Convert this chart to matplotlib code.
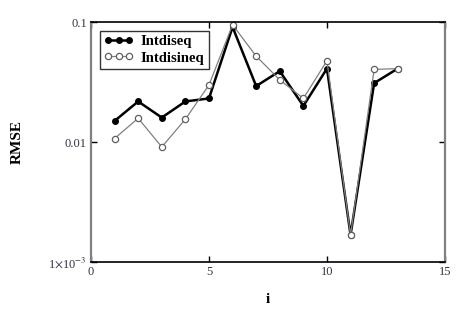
import matplotlib.pyplot as plt
import numpy as np

i_vals = [1, 2, 3, 4, 5, 6, 7, 8, 9, 10, 11, 12, 13]
intdiseq = [0.0150, 0.0218, 0.0160, 0.0218, 0.0231, 0.091, 0.0293, 0.039, 0.0200, 0.041, 0.00168, 0.031, 0.041]
intdisineq = [0.0107, 0.0158, 0.0091, 0.0155, 0.0299, 0.095, 0.052, 0.033, 0.0231, 0.0476, 0.00168, 0.0403, 0.041]

xticks = [0, 5, 10, 15]
yticks = [0.001, 0.01, 0.1]
ytick_labels = [r"1$\times$10$^{-3}$", "0.01", "0.1"]

plt.rcParams['font.family'] = ['Liberation Serif', 'DejaVu Serif']
plt.rcParams['mathtext.fontset'] = 'stix'

fig = plt.figure(figsize=(4.63, 3.16), dpi=100)
ax = fig.add_axes([0.1965, 0.171, 0.7645, 0.759])

ax.plot(i_vals, intdiseq, '-o', color='black', lw=1.8, ms=4,
        label='Intdiseq')
ax.plot(i_vals, intdisineq, '-o', color='#808080', lw=0.9, ms=4.5,
        mfc='white', mec='#606060', mew=0.9, label='Intdisineq')

ax.set_yscale('log')
ax.set_xlim(0, 15)
ax.set_ylim(0.001, 0.1)
ax.set_xticks(xticks)
ax.set_yticks(yticks)
ax.set_yticklabels(ytick_labels)
ax.minorticks_off()
ax.tick_params(direction='in', length=4, width=1, labelsize=9,
               top=True, right=True, labelcolor='#333344', pad=3)

for side in ['top', 'bottom']:
    ax.spines[side].set_color('black')
    ax.spines[side].set_linewidth(1.2)
for side in ['left', 'right']:
    ax.spines[side].set_color('#808080')
    ax.spines[side].set_linewidth(1.6)

ax.set_xlabel('i', fontweight='bold', fontsize=11)
ax.set_ylabel('RMSE', fontweight='bold', fontsize=11)
ax.xaxis.set_label_coords(0.5, -0.13)
ax.yaxis.set_label_coords(-0.19, 0.5)

leg = ax.legend(loc='upper left', numpoints=3, fancybox=False, frameon=True,
                edgecolor='black', borderaxespad=0.6, handlelength=2.0,
                handletextpad=0.5, borderpad=0.3, labelspacing=0.2,
                prop={'weight': 'bold', 'size': 10.5})
leg.get_frame().set_linewidth(1.0)

plt.savefig('out.png', dpi=100)
plt.close()
